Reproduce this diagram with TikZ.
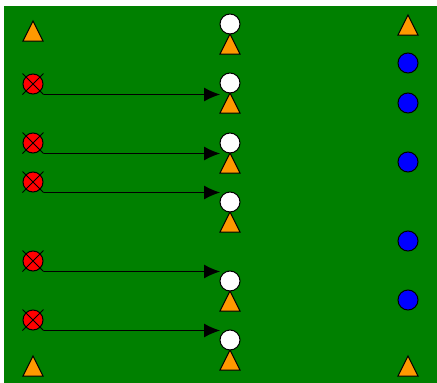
\documentclass[tikz,border=0pt]{standalone}
\usetikzlibrary{shapes.misc,arrows.meta}
\definecolor{field}{HTML}{008000}
\definecolor{cone}{HTML}{FF9900}
\tikzset{
  tri/.style={draw=black, line width=1pt, fill=cone, line join=miter},
  wht/.style={circle, minimum size=20pt, inner sep=0pt, outer sep=0pt, draw=black, line width=1pt, fill=white},
  blu/.style={circle, minimum size=20pt, inner sep=0pt, draw=black, line width=1pt, fill=blue},
  red/.style={circle, minimum size=20pt, inner sep=0pt, draw=black, line width=1pt, fill=red},
  xo/.style={cross out, minimum size=20pt, inner sep=0pt, draw=black, line width=1pt},
  pass/.style={line width=1pt, -{Latex[length=16pt,width=14pt]}}
}
\begin{document}
\begin{tikzpicture}[x=1pt,y=-1pt]
\useasboundingbox (0,0) rectangle (437,383);
\fill[white] (0,0) rectangle (437,383);
\fill[field] (4,6) rectangle (437,383);
% cone apex positions
\coordinate (lt) at (33,21);
\coordinate (lb) at (33,356);
\coordinate (rt) at (408,15);
\coordinate (rb) at (408,356);
\foreach \c in {lt,lb,rt,rb}
  \draw[tri] (\c) -- ++(10,20) -- ++(-20,0) -- cycle;
% blue
\foreach \y [count=\i] in {63,103,162,241,300} \node[blu] (b\i) at (408,\y) {};
% middle white + cones
\foreach \y [count=\i] in {24,83,143,202,281,340} {
  \node[wht] (w\i) at (230,\y) {};
  \draw[tri] (w\i.south) -- ++(10,20) -- ++(-20,0) -- cycle;
}
% red crossed
\foreach \y [count=\i] in {84,143,182,261,320} {
  \node[red] (r\i) at (33,\y) {};
  \node[xo] (x\i) at (33,\y) {};
}
\draw[pass] (x1.south east) -- (w2.west |- x1.south east);
\draw[pass] (x2.south east) -- (w3.west |- x2.south east);
\draw[pass] (x3.south east) -- (w4.west |- x3.south east);
\draw[pass] (x4.south east) -- (w5.west |- x4.south east);
\draw[pass] (x5.south east) -- (w6.west |- x5.south east);
\end{tikzpicture}
\end{document}
